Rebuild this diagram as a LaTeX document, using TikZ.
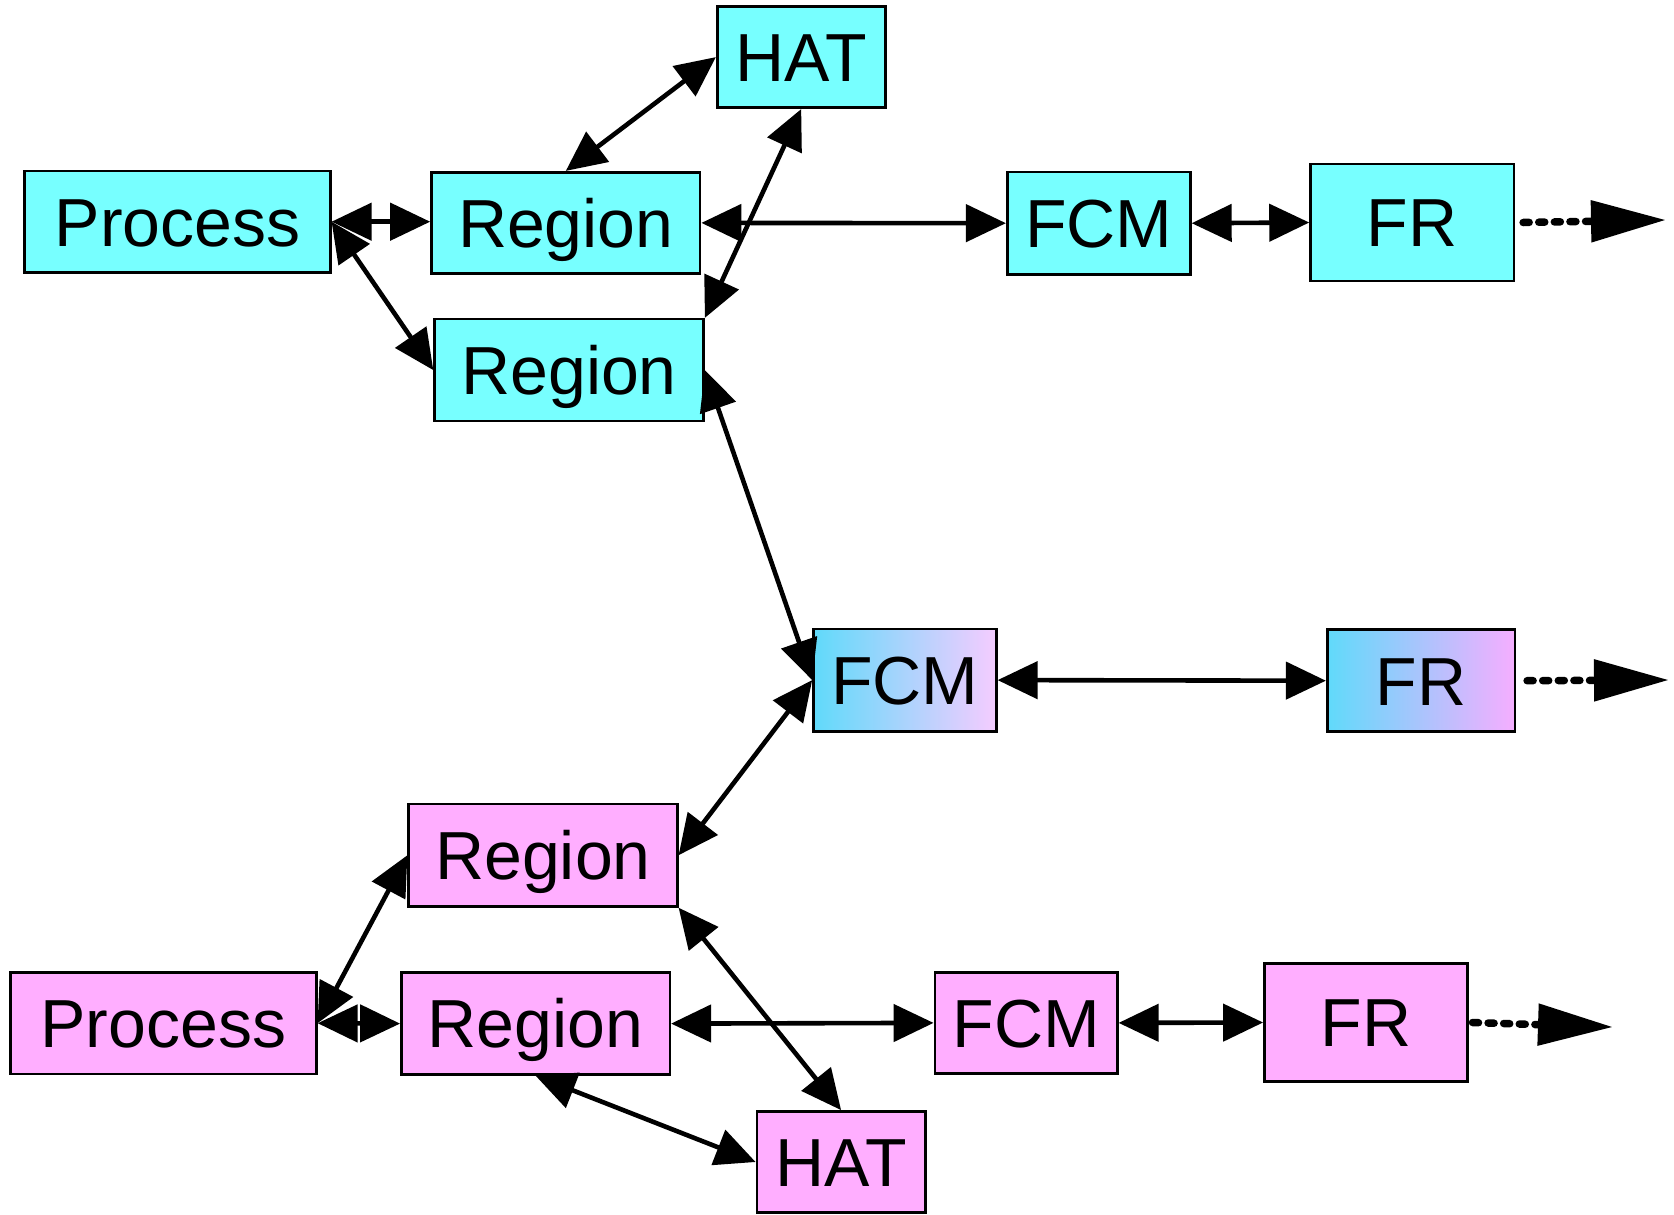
\documentclass[tikz,border=0pt]{standalone}
\usepackage{fontspec}
\setmainfont{Liberation Sans}
\usetikzlibrary{arrows.meta}

\definecolor{cyanfill}{RGB}{119,255,255}
\definecolor{pinkfill}{RGB}{255,174,255}
\definecolor{mixleft}{RGB}{96,218,250}
\definecolor{mixrightlight}{RGB}{245,204,255}
\definecolor{mixrightpink}{RGB}{245,174,255}

\begin{document}
\begin{tikzpicture}[x=1pt,y=-1pt,
  box/.style={draw=black, line width=2.6pt, inner sep=0pt,
    font=\fontsize{68}{80}\selectfont, text height=48.7pt, text depth=0pt},
  cyanbox/.style={box, fill=cyanfill},
  pinkbox/.style={box, fill=pinkfill},
  mixbox/.style={box, left color=mixleft, right color=#1},
  link/.style={line width=4.6pt,
    {Triangle[length=40pt,width=37pt]}-{Triangle[length=40pt,width=37pt]}},
  dotlink/.style={line width=7.5pt, dash pattern=on 6pt off 9.6pt, line cap=round,
    -{Triangle[length=74pt,width=42pt,line width=2pt]}}]

\useasboundingbox (0,0) rectangle (1674,1215);

% upper (cyan) group
\node[cyanbox, minimum width=168pt,   minimum height=101.3pt] (hat1) at (801.2,57.1)  {HAT};
\node[cyanbox, minimum width=305.6pt, minimum height=101.1pt] (pr1)  at (177.5,221.7) {Process};
\node[cyanbox, minimum width=268.6pt, minimum height=101.4pt] (r1)   at (565.8,222.9) {Region};
\node[cyanbox, minimum width=269pt,   minimum height=101.9pt] (r2)   at (569.1,370.1) {Region};
\node[cyanbox, minimum width=183.1pt, minimum height=102.6pt] (fcm1) at (1098.8,223.2) {FCM};
\node[cyanbox, minimum width=203.3pt, minimum height=116.8pt] (fr1)  at (1412.2,222.5) {FR};

% shared (mixed) group
\node[mixbox=mixrightlight, minimum width=182.8pt, minimum height=102.4pt] (fcm2) at (904.9,680.1) {FCM};
\node[mixbox=mixrightpink,  minimum width=187.6pt, minimum height=102.1pt] (fr2)  at (1421,680.7)  {FR};

% lower (pink) group
\node[pinkbox, minimum width=268.6pt, minimum height=102.4pt] (r3)   at (543,855.2)    {Region};
\node[pinkbox, minimum width=305.8pt, minimum height=101.3pt] (pr2)  at (163.4,1023.2) {Process};
\node[pinkbox, minimum width=268.4pt, minimum height=101.7pt] (r4)   at (535.6,1023.6) {Region};
\node[pinkbox, minimum width=182.4pt, minimum height=100.9pt] (fcm3) at (1026.1,1022.9) {FCM};
\node[pinkbox, minimum width=202.8pt, minimum height=117.6pt] (fr3)  at (1365.8,1022.5) {FR};
\node[pinkbox, minimum width=168.4pt, minimum height=101.2pt] (hat2) at (841.1,1162)    {HAT};

% free ends of the dotted continuations
\coordinate (end1) at (1665,220);
\coordinate (end2) at (1668,680);
\coordinate (end3) at (1612,1027);

% upper links
\draw[link] (pr1.east) -- (pr1.east -| r1.west);
\draw[link] (pr1.east) -- (r2.west);
\draw[link] (r1.north) -- (hat1.west);
\draw[link] (r2.north east) -- (hat1.south);
\draw[link] (r1.east) -- (fcm1.west);
\draw[link] (fcm1.east) -- (fr1.west);
\draw[dotlink] ([xshift=8pt]fr1.east) -- (end1);

% shared links
\draw[link] (r2.east) -- (fcm2.west);
\draw[link] (fcm2.west) -- (r3.east);
\draw[link] (fcm2.east) -- (fr2.west);
\draw[dotlink] ([xshift=11pt]fr2.east) -- (end2);

% lower links
\draw[link] (r3.west) -- (pr2.east);
\draw[link] (pr2.east) -- (r4.west);
\draw[link] (r3.south east) -- (hat2.north);
\draw[link] (r4.south) -- (hat2.west);
\draw[link] (r4.east) -- (fcm3.west);
\draw[link] (fcm3.east) -- (fr3.west);
\draw[dotlink] ([xshift=4pt]fr3.east) -- (end3);
\end{tikzpicture}
\end{document}
